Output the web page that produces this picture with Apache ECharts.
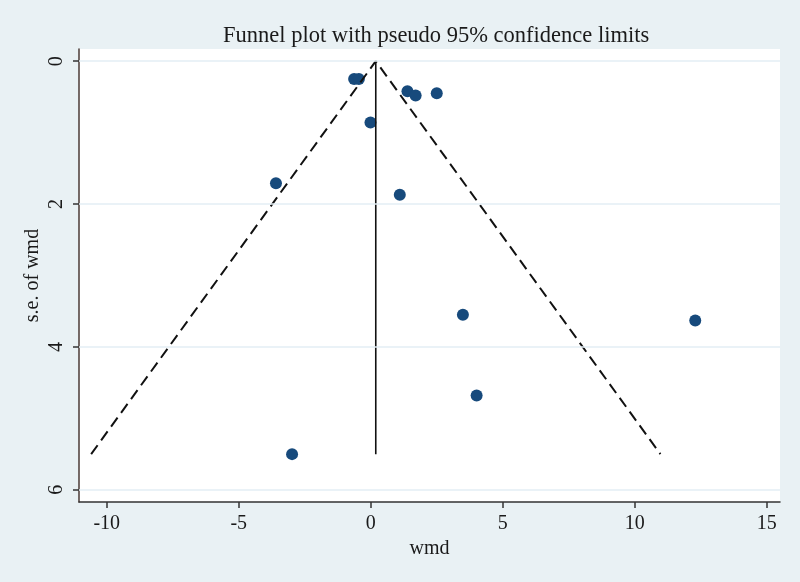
<!DOCTYPE html>
<html><head><meta charset="utf-8">
<script src="https://cdn.jsdelivr.net/npm/echarts@6/dist/echarts.min.js"></script>
<style>html,body{margin:0;padding:0;background:#e9f1f4}#c{width:800px;height:582px}</style>
</head><body><div id="c"></div>
<script>
const titleText = "Funnel plot with pseudo 95% confidence limits";
const xName = "wmd";
const yName = "s.e. of wmd";
const studyWmd = [-0.63, -0.45, 1.39, 1.70, 2.50, -0.01, -3.59, 1.10, 3.49, 12.29, 4.01, -2.98];
const studySe  = [0.25, 0.25, 0.42, 0.48, 0.45, 0.86, 1.71, 1.87, 3.55, 3.63, 4.68, 5.50];
const funnelX = [-10.59, 0.19, 10.97];
const funnelY = [5.5, 0, 5.5];
const pooledX = [0.19, 0.19];
const pooledY = [0, 5.5];
const xTicks = [-10, -5, 0, 5, 10, 15];
const yTicks = [0, 2, 4, 6];

const font = "'Liberation Serif','DejaVu Serif',serif";
const chart = echarts.init(document.getElementById('c'), null, {renderer:'canvas'});
chart.setOption({
  backgroundColor: '#e9f1f4',
  animation: false,
  title: {text: titleText, left: 218, top: 20,
    textStyle: {fontFamily: font, fontWeight: 'normal', fontSize: 22.5, color: '#1a1a1a'}},
  grid: {left: 79, right: 20, top: 49, bottom: 80, show: true, backgroundColor: '#ffffff', borderWidth: 0},
  xAxis: {
    type: 'value', min: -11.05, max: 15.5,
    name: xName, nameLocation: 'middle', nameGap: 36,
    nameTextStyle: {fontFamily: font, fontSize: 20, color: '#1a1a1a'},
    axisLine: {show: true, onZero: false, lineStyle: {color: '#333', width: 1.5}},
    axisTick: {show: true, length: 6, customValues: xTicks, lineStyle: {color: '#333', width: 1.5}},
    axisLabel: {customValues: xTicks, margin: 12, fontFamily: font, fontSize: 20, color: '#1a1a1a'},
    splitLine: {show: false}
  },
  yAxis: {
    type: 'value', inverse: true, min: -0.17, max: 6.17,
    name: yName, nameLocation: 'middle', nameGap: 36, nameRotate: 90, nameMoveOverlap: false,
    nameTextStyle: {fontFamily: font, fontSize: 20, color: '#1a1a1a'},
    axisLine: {show: true, onZero: false, lineStyle: {color: '#4a3a36', width: 1.5}},
    axisTick: {show: true, length: 6, customValues: yTicks, lineStyle: {color: '#333', width: 1.5}},
    axisLabel: {customValues: yTicks, rotate: 90, margin: 12, fontFamily: font, fontSize: 20, color: '#1a1a1a'},
    splitLine: {show: false}
  },
  series: [
    {type: 'line', data: yTicks.map(v => [-11.05, v]), symbol: 'none', lineStyle: {opacity: 0},
     silent: true,
     markLine: {silent: true, symbol: 'none', label: {show: false},
       lineStyle: {color: '#e3eef5', width: 1.5, type: 'solid'},
       data: yTicks.map(v => ({yAxis: v}))}},
    {type: 'line', data: funnelX.map((x, i) => [x, funnelY[i]]), symbol: 'none',
     lineStyle: {color: '#111', width: 2, type: [11, 6]}},
    {type: 'line', data: pooledX.map((x, i) => [x, pooledY[i]]), symbol: 'none',
     lineStyle: {color: '#111', width: 1.6}},
    {type: 'scatter', data: studyWmd.map((x, i) => [x, studySe[i]]), symbol: 'circle', symbolSize: 12,
     itemStyle: {color: '#174a7c', opacity: 1}}
  ]
});
</script></body></html>
